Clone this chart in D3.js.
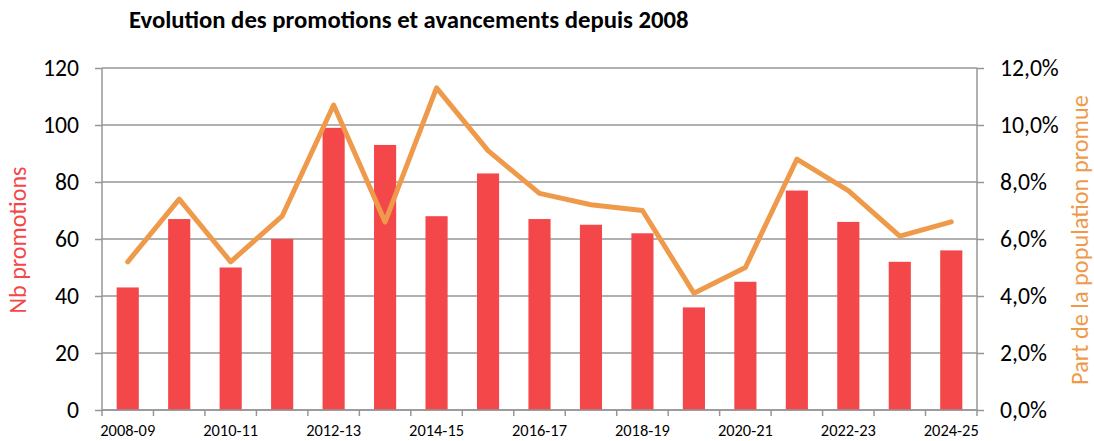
<!DOCTYPE html>
<html>
<head>
<meta charset="utf-8">
<script src="https://cdn.jsdelivr.net/npm/d3@7"></script>
<style>
  body { margin: 0; background: #fff; }
  svg text { font-family: Carlito, Lato, "Liberation Sans", sans-serif; }
</style>
</head>
<body>
<svg id="chart" width="1094" height="441"></svg>
<script>
// Données
const years = ["2008-09", "2009-10", "2010-11", "2011-12", "2012-13", "2013-14", "2014-15", "2015-16",
  "2016-17", "2017-18", "2018-19", "2019-20", "2020-21", "2021-22", "2022-23", "2023-24", "2024-25"];
const nbPromotions = [43, 67, 50, 60, 99, 93, 68, 83, 67, 65, 62, 36, 45, 77, 66, 52, 56];
const partPromue = [5.2, 7.4, 5.2, 6.8, 10.7, 6.6, 11.3, 9.1, 7.6, 7.2, 7.0, 4.1, 5.0, 8.8, 7.7, 6.1, 6.6];
const leftTicks = [0, 20, 40, 60, 80, 100, 120];
const rightTicks = [0, 2, 4, 6, 8, 10, 12];

const svg = d3.select("#chart");
const margin = { top: 68, right: 117, bottom: 31, left: 102 };
const width = 1094 - margin.left - margin.right;
const height = 441 - margin.top - margin.bottom;
const g = svg.append("g").attr("transform", `translate(${margin.left},${margin.top})`);

// Ajuste la taille de police pour obtenir la largeur voulue
function fitText(sel, target) {
  const base = 20;
  sel.attr("font-size", base);
  const len = sel.node().getComputedTextLength();
  return base * target / len;
}

const x = d3.scaleBand().domain(years).range([0, width]).paddingInner(0.57).paddingOuter(0.285);
const xEdges = d3.scaleLinear().domain([0, years.length]).range([0, width]);
const yLeft = d3.scaleLinear().domain([0, 120]).range([height, 0]);
const yRight = d3.scaleLinear().domain([0, 12]).range([height, 0]);

// Grille horizontale
g.selectAll(".grid").data(leftTicks).enter().append("line")
  .attr("x1", 0).attr("x2", width)
  .attr("y1", d => yLeft(d)).attr("y2", d => yLeft(d))
  .attr("stroke", "#969696").attr("stroke-width", 1.5);

// Barres
g.selectAll(".bar").data(nbPromotions).enter().append("rect")
  .attr("x", (d, i) => x(years[i]))
  .attr("y", d => yLeft(d))
  .attr("width", x.bandwidth())
  .attr("height", d => height - yLeft(d))
  .attr("fill", "#f4474a");

// Ligne
const line = d3.line()
  .x((d, i) => x(years[i]) + x.bandwidth() / 2)
  .y(d => yRight(d));
g.append("path").datum(partPromue)
  .attr("d", line)
  .attr("fill", "none")
  .attr("stroke", "#ef9a4b")
  .attr("stroke-width", 5)
  .attr("stroke-linejoin", "round")
  .attr("stroke-linecap", "round");

// Axe gauche
const axisLeft = d3.axisLeft(yLeft).tickValues(leftTicks).tickSize(7).tickPadding(16);
const gl = g.append("g").call(axisLeft).attr("font-family", null);
gl.select(".domain").attr("stroke", "#969696").attr("stroke-width", 1.5).attr("d", `M0,${height}V0`);
gl.selectAll(".tick line").attr("stroke", "#969696").attr("stroke-width", 1.5);
const tickSize = fitText(gl.selectAll(".tick text").filter(d => d === 120), 36);
gl.selectAll(".tick text").attr("font-size", tickSize).attr("fill", "#000");

// Axe droit
const axisRight = d3.axisRight(yRight).tickValues(rightTicks).tickSize(7).tickPadding(16)
  .tickFormat(d => d3.format(".1f")(d).replace(".", ",") + "%");
const gr = g.append("g").attr("transform", `translate(${width},0)`).call(axisRight).attr("font-family", null);
gr.select(".domain").attr("stroke", "#969696").attr("stroke-width", 1.5).attr("d", `M0,${height}V0`);
gr.selectAll(".tick line").attr("stroke", "#969696").attr("stroke-width", 1.5);
gr.selectAll(".tick text").attr("font-size", tickSize).attr("fill", "#000");

// Axe X
const gx = g.append("g").attr("transform", `translate(0,${height})`);
gx.append("line").attr("x1", 0).attr("x2", width).attr("stroke", "#969696").attr("stroke-width", 1.5);
gx.selectAll(".xt").data(d3.range(years.length + 1)).enter().append("line")
  .attr("x1", d => xEdges(d)).attr("x2", d => xEdges(d))
  .attr("y1", 0).attr("y2", 6)
  .attr("stroke", "#969696").attr("stroke-width", 1.5);
const xLabels = gx.selectAll(".xl").data(years.filter((d, i) => i % 2 === 0)).enter().append("text")
  .attr("x", d => x(d) + x.bandwidth() / 2)
  .attr("y", 26)
  .attr("text-anchor", "middle")
  .attr("fill", "#000")
  .text(d => d);
const xSize = fitText(xLabels.filter((d, i) => i === 0), 55);
xLabels.attr("font-size", xSize);

// Titres des axes
const leftTitle = svg.append("text")
  .attr("transform", `translate(26,240) rotate(-90)`)
  .attr("text-anchor", "middle")
  .attr("fill", "#f4474a")
  .text("Nb promotions");
leftTitle.attr("font-size", fitText(leftTitle, 147));

const rightTitle = svg.append("text")
  .attr("transform", `translate(1088,240) rotate(-90)`)
  .attr("text-anchor", "middle")
  .attr("fill", "#ef9a4b")
  .text("Part de la population promue");
rightTitle.attr("font-size", fitText(rightTitle, 290));

// Titre
const title = svg.append("text")
  .attr("x", 129).attr("y", 28)
  .attr("font-weight", "bold")
  .attr("fill", "#000")
  .text("Evolution des promotions et avancements depuis 2008");
title.attr("font-size", fitText(title, 560));
</script>
</body>
</html>
